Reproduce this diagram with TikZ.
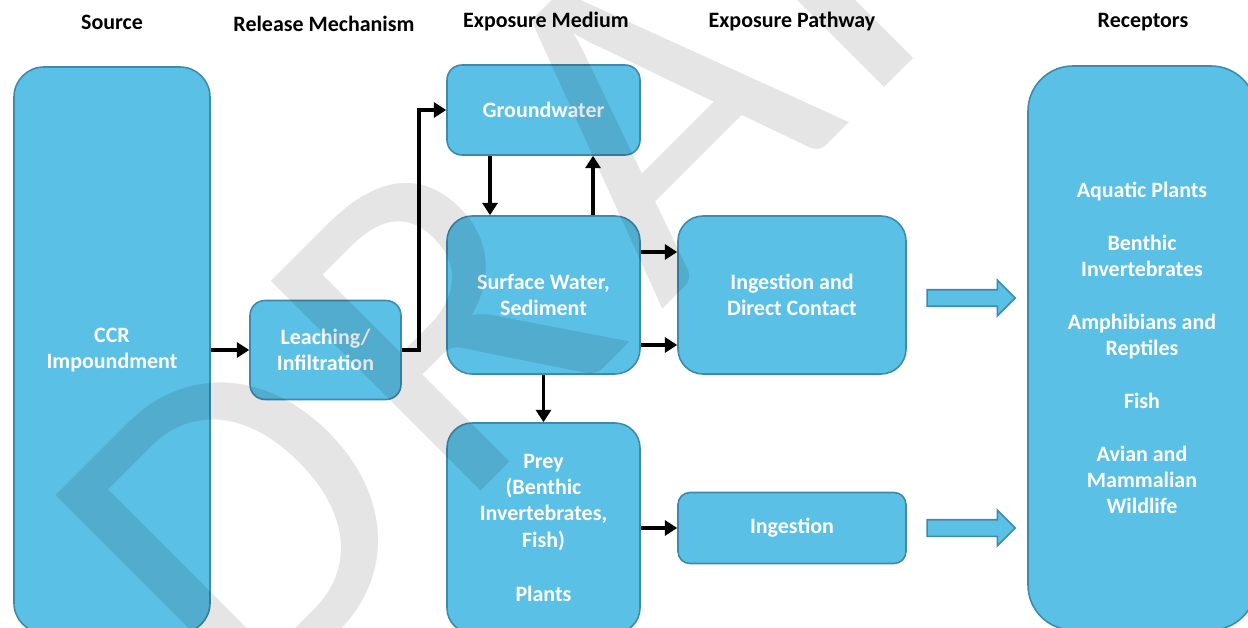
\documentclass[tikz,border=0pt]{standalone}
\usepackage{fontspec}
\setmainfont{Carlito}
\usetikzlibrary{arrows.meta,shapes.arrows}
\definecolor{boxblue}{RGB}{91,192,230}
\definecolor{boxedge}{RGB}{62,138,172}
\begin{document}
\begin{tikzpicture}[x=0.02cm,y=0.02cm,
    box/.style={draw=boxedge, line width=0.9pt, fill=boxblue, text=white, align=center,
        font=\fontsize{12.5}{15}\selectfont\bfseries, inner sep=0pt},
    head/.style={font=\fontsize{12.5}{15}\selectfont\bfseries},
    arr/.style={line width=2.2pt, -{Triangle[length=7pt,width=8.5pt]}},
    fat/.style={single arrow, draw=boxedge, line width=0.9pt, fill=boxblue, inner xsep=0pt, inner ysep=0.15cm,
        minimum height=1.76cm, single arrow head extend=0.19cm}]
        % Define dimensions
        \def\u{0.02cm}

        % Bounding box of the picture
        \useasboundingbox (0,0) rectangle (1248,-628);

        % Column headers
        \node (hsrc) at (112,-22) [head] {Source};
        \node (hrel) at (324,-24) [head] {Release Mechanism};
        \node (hmed) at (546,-22) [head] {Exposure Medium};
        \node (hpath) at (792,-22) [head] {Exposure Pathway};
        \node (hrec) at (1143,-22) [head] {Receptors};

        % Boxes
        \node (src) at (112,-350) [box, rounded corners=0.6cm, minimum width=196*\u, minimum height=566*\u] {CCR\\Impoundment};
        \node (leach) at (325.5,-350) [box, rounded corners=0.3cm, minimum width=151*\u, minimum height=99*\u] {Leaching/\\Infiltration};
        \node (ground) at (543.5,-110) [box, rounded corners=0.3cm, minimum width=193*\u, minimum height=90*\u] {Groundwater};
        \node (surf) at (543.5,-295) [box, rounded corners=0.5cm, minimum width=193*\u, minimum height=158*\u] {Surface Water,\\Sediment};
        \node (prey) at (543.5,-528) [box, rounded corners=0.5cm, minimum width=193*\u, minimum height=210*\u] {Prey\\(Benthic\\Invertebrates,\\Fish)\\[16pt]Plants};
        \node (idc) at (792,-295) [box, rounded corners=0.5cm, minimum width=228*\u, minimum height=158*\u] {Ingestion and\\Direct Contact};
        \node (ing) at (792,-528) [box, rounded corners=0.24cm, minimum width=228*\u, minimum height=71*\u] {Ingestion};
        \node (rec) at (1142,-348) [box, rounded corners=0.9cm, minimum width=228*\u, minimum height=564*\u]
            {Aquatic Plants\\[15pt]Benthic\\Invertebrates\\[15pt]Amphibians and\\Reptiles\\[15pt]Fish\\[15pt]Avian and\\Mammalian\\Wildlife};

        % Connectors
        \draw[arr] (leach.west -| src.east) -- (leach.west);
        \draw[arr] (leach.east) -- ++(17,0) |- (ground.west);
        \draw[arr] ([xshift=-53.5*\u]ground.south) -- ([xshift=-53.5*\u]surf.north);
        \draw[arr] ([xshift=49.5*\u]surf.north) -- ([xshift=49.5*\u]ground.south);
        \draw[arr] ([yshift=43*\u]surf.east) -- ([yshift=43*\u]idc.west);
        \draw[arr] ([yshift=-50*\u]surf.east) -- ([yshift=-50*\u]idc.west);
        \draw[arr] (surf.south) -- (prey.north);
        \draw[arr] (ing.west -| prey.east) -- (ing.west);

        % Block arrows to receptors
        \node (fat1) at (967,-298) [fat] {};
        \node (fat2) at (967,-528) [fat] {};

        % Watermark
        \begin{scope}
            \clip (0,0) rectangle (1248,-628);
            \node (mark) at (243.7,-728.2) [anchor=base west, rotate=45, inner sep=0pt, text=black, text opacity=0.1,
                font=\fontsize{263}{263}\selectfont] {D\kern10pt R\kern22pt A\kern9pt F\kern2pt T};
        \end{scope}
\end{tikzpicture}
\end{document}
